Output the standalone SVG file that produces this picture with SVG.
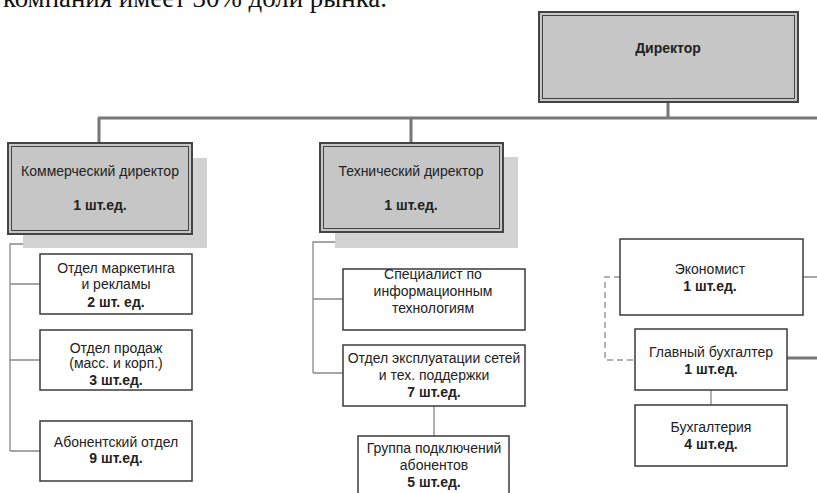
<svg xmlns="http://www.w3.org/2000/svg" width="817" height="493" viewBox="0 0 817 493">
<style>
  text { font-family: "Liberation Sans", Arial, sans-serif; font-size: 14px; fill: #222; text-anchor: middle; }
  .b { font-weight: bold; }
  .top { font-family: "Liberation Serif", "Times New Roman", serif; font-size: 27px; text-anchor: start; fill: #111; }
  .box { fill: #fff; stroke: #3a3a3a; stroke-width: 1.5; }
  .head { fill: #c6c6c6; stroke: #444; stroke-width: 2; }
  .inner { fill: none; stroke: #444; stroke-width: 1; }
  .shadow { fill: #d2d2d2; stroke: none; }
  .main { fill: none; stroke: #777; stroke-width: 3; }
  .thin { fill: none; stroke: #888; stroke-width: 1.3; }
  .dash { fill: none; stroke: #999; stroke-width: 1.5; stroke-dasharray: 6 4; }
</style>
<rect width="817" height="493" fill="#fff"/>
<text class="top" x="3" y="7" textLength="384" lengthAdjust="spacingAndGlyphs">компания имеет 30% доли рынка.</text>

<g id="connectors">
  <path class="main" d="M668,102 V118 M98,118 H817 M99,118 V143 M411,118 V143 M787,358 H817"/>
  <path class="thin" d="M100,234 V244 H10 V451 M10,284 H40 M10,360 H40 M10,451 H40"/>
  <path class="thin" d="M411,232 V242 H313 V373 M313,299 H343 M313,373 H343 M434,406 V436"/>
  <path class="thin" d="M803,277 H817 M711,390 V405"/>
  <path class="dash" d="M620,277 H605 V360 H635"/>
</g>

<g id="director">
  <rect class="head" x="539" y="12" width="259" height="90"/>
  <rect class="inner" x="542.5" y="15.5" width="252" height="83"/>
  <text class="b" x="668" y="53">Директор</text>
</g>

<g id="commercial-director">
  <rect class="shadow" x="23" y="158" width="184" height="90"/>
  <rect class="head" x="8" y="143" width="184" height="91"/>
  <rect class="inner" x="11.5" y="146.5" width="177" height="84"/>
  <text x="100" y="176">Коммерческий директор</text>
  <text class="b" x="100" y="210">1 шт.ед.</text>
</g>

<g id="marketing">
  <rect class="box" x="40" y="254" width="152" height="60"/>
  <text x="116" y="273">Отдел маркетинга</text>
  <text x="116" y="289">и рекламы</text>
  <text class="b" x="116" y="307">2 шт. ед.</text>
</g>

<g id="sales">
  <rect class="box" x="40" y="330" width="152" height="60"/>
  <text x="116" y="353">Отдел продаж</text>
  <text x="116" y="368">(масс. и корп.)</text>
  <text class="b" x="116" y="385">3 шт.ед.</text>
</g>

<g id="subscriber-dept">
  <rect class="box" x="40" y="421" width="152" height="60"/>
  <text x="116" y="447">Абонентский отдел</text>
  <text class="b" x="116" y="463">9 шт.ед.</text>
</g>

<g id="technical-director">
  <rect class="shadow" x="335" y="157" width="183" height="91"/>
  <rect class="head" x="320" y="143" width="183" height="89"/>
  <rect class="inner" x="323.5" y="146.5" width="176" height="82"/>
  <text x="411" y="176">Технический директор</text>
  <text class="b" x="411" y="210">1 шт.ед.</text>
</g>

<g id="it-specialist">
  <rect class="box" x="343" y="269" width="182" height="61"/>
  <text x="433" y="279">Специалист по</text>
  <text x="433" y="296">информационным</text>
  <text x="433" y="313">технологиям</text>
</g>

<g id="network-ops">
  <rect class="box" x="343" y="345" width="182" height="61"/>
  <text x="434" y="363">Отдел эксплуатации сетей</text>
  <text x="434" y="380">и тех. поддержки</text>
  <text class="b" x="434" y="397">7 шт.ед.</text>
</g>

<g id="connection-group">
  <rect class="box" x="358" y="436" width="151" height="64"/>
  <text x="434" y="453">Группа подключений</text>
  <text x="434" y="470">абонентов</text>
  <text class="b" x="434" y="487">5 шт.ед.</text>
</g>

<g id="economist">
  <rect class="box" x="620" y="239" width="183" height="76"/>
  <text x="710" y="274">Экономист</text>
  <text class="b" x="710" y="291">1 шт.ед.</text>
</g>

<g id="chief-accountant">
  <rect class="box" x="635" y="329" width="152" height="61"/>
  <text x="711" y="357">Главный бухгалтер</text>
  <text class="b" x="711" y="374">1 шт.ед.</text>
</g>

<g id="accounting">
  <rect class="box" x="635" y="405" width="152" height="61"/>
  <text x="711" y="432">Бухгалтерия</text>
  <text class="b" x="711" y="449">4 шт.ед.</text>
</g>
</svg>
